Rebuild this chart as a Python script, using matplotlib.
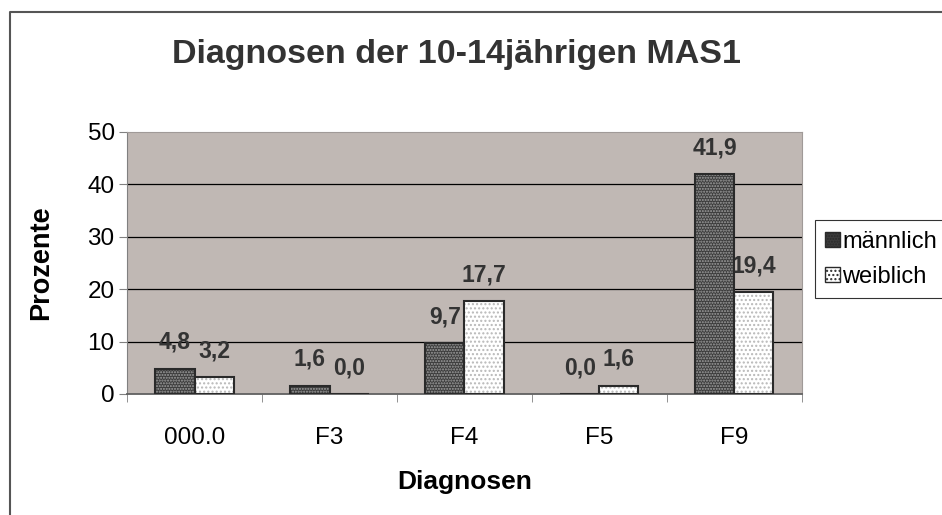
import numpy as np
import matplotlib
matplotlib.use('Agg')
import matplotlib.pyplot as plt
from matplotlib.lines import Line2D
from matplotlib.patches import Patch

categories = ['000.0', 'F3', 'F4', 'F5', 'F9']
maennlich = [4.8, 1.6, 9.7, 0.0, 41.9]
weiblich = [3.2, 0.0, 17.7, 1.6, 19.4]
series_names = ['männlich', 'weiblich']

plt.rcParams['font.family'] = ['Liberation Sans', 'DejaVu Sans']
plt.rcParams['hatch.linewidth'] = 1.0

fig = plt.figure(figsize=(9.42, 5.15), dpi=100)
ax = fig.add_axes([0.135, 0.235, 0.716, 0.509])
ax.set_facecolor('#c0b8b4')

x = np.arange(len(categories))
w = 0.29

# grid lines behind bars
for yv in [10, 20, 30, 40]:
    ax.axhline(yv, color='black', lw=0.9, zorder=0)

# male bars: dark face with light dots
ax.bar(x - w / 2, maennlich, w, color='#3c3c3c', edgecolor='#2a2a2a', lw=1.2, zorder=2)
ax.bar(x - w / 2, maennlich, w, color='none', edgecolor='#a0a0a0', hatch='......', lw=0, zorder=3)
ax.bar(x - w / 2, maennlich, w, color='none', edgecolor='#2a2a2a', lw=1.5, zorder=4)
# female bars: white face with gray dots
ax.bar(x + w / 2, weiblich, w, color='white', edgecolor='#2a2a2a', lw=1.2, zorder=2)
ax.bar(x + w / 2, weiblich, w, color='none', edgecolor='#b8b8b8', hatch='....', lw=0, zorder=3)
ax.bar(x + w / 2, weiblich, w, color='none', edgecolor='#2a2a2a', lw=1.5, zorder=4)

for i in range(len(categories)):
    for xv, val in [(x[i] - w / 2, maennlich[i]), (x[i] + w / 2, weiblich[i])]:
        ax.annotate(f'{val:.1f}'.replace('.', ','), (xv, val), xytext=(0, 19),
                    textcoords='offset points', ha='center', va='center',
                    fontsize=16.5, fontweight='bold', color='#333333')

ax.set_xlim(-0.5, len(categories) - 0.5)
ax.set_ylim(0, 50)
ax.set_yticks(range(0, 51, 10))
ax.set_xticks(x)
ax.set_xticklabels(categories)
ax.set_xticks(np.arange(-0.5, len(categories), 1), minor=True)
ax.tick_params(axis='x', which='major', length=0, pad=24, labelsize=17.5)
ax.tick_params(axis='x', which='minor', length=6, direction='out', color='#808080')
ax.tick_params(axis='y', length=6, direction='out', color='#808080', labelsize=17.5, pad=3)

for side in ['top', 'right']:
    ax.spines[side].set_color('#a09a98')
ax.spines['left'].set_color('#808080')
ax.spines['bottom'].set_color('#606060')
ax.spines['bottom'].set_linewidth(1.3)

ax.set_ylabel('Prozente', fontsize=19.5, fontweight='bold', labelpad=24)
ax.set_xlabel('Diagnosen', fontsize=19, fontweight='bold', labelpad=15)
fig.text(0.485, 0.895, 'Diagnosen der 10-14jährigen MAS1', ha='center', va='center',
         fontsize=24.5, fontweight='bold', color='#333333')

handles = [Patch(facecolor='#3c3c3c', edgecolor='#2a2a2a', hatch='......'),
           Patch(facecolor='white', edgecolor='#2a2a2a', hatch='....')]
leg = fig.legend(handles, series_names, loc='upper left', bbox_to_anchor=(0.865, 0.573),
                 frameon=True, fancybox=False, fontsize=17, handlelength=0.6,
                 handleheight=0.6, handletextpad=0.12, labelspacing=0.55, borderpad=0.45,
                 borderaxespad=0)
leg.get_frame().set_edgecolor('black')
leg.get_frame().set_linewidth(0.8)

# outer chart border (only top and left visible)
fig.lines.append(Line2D([0.0106, 0.0106, 1.0], [0.0, 0.977, 0.977], transform=fig.transFigure,
                        color='#555555', lw=1.5))

fig.savefig('out.png', dpi=100)
